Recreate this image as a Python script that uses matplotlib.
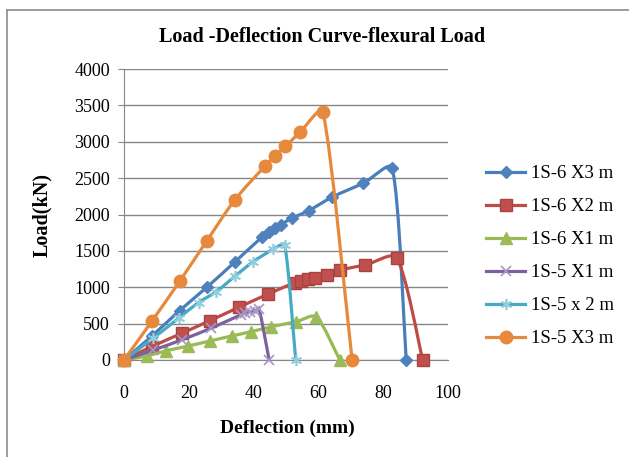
import numpy as np
import matplotlib
matplotlib.use("Agg")
import matplotlib.pyplot as plt
from matplotlib.path import Path
from matplotlib.patches import PathPatch
from matplotlib.lines import Line2D

# deflection (mm) / load (kN)
x_s6x3 = [0, 8.5, 17.2, 25.7, 34.2, 42.6, 44.6, 46.5, 48.4, 51.7, 57.0, 64.3, 73.8, 82.8, 87.1]
y_s6x3 = [0, 325, 680, 1005, 1347, 1690, 1755, 1810, 1860, 1947, 2053, 2240, 2430, 2635, 0]

x_s6x2 = [0, 8.5, 17.8, 26.5, 35.4, 44.5, 52.7, 54.7, 56.8, 59.0, 62.5, 66.8, 74.5, 84.2, 92.2]
y_s6x2 = [0, 183, 367, 540, 724, 907, 1063, 1086, 1109, 1132, 1169, 1238, 1306, 1400, 0]

x_s6x1 = [0, 7.0, 13.1, 19.8, 26.5, 33.2, 39.3, 45.5, 53.2, 59.4, 66.6]
y_s6x1 = [0, 55, 128, 192, 261, 330, 390, 458, 527, 590, 0]

x_s5x1 = [0, 9.0, 18.0, 27.0, 36.0, 37.5, 39.0, 40.5, 41.7, 44.8]
y_s5x1 = [0, 135, 280, 440, 620, 645, 665, 680, 700, 0]

x_s5x2 = [0, 9.0, 17.0, 23.0, 28.5, 34.2, 39.9, 46.0, 49.6, 53.0]
y_s5x2 = [0, 300, 580, 790, 940, 1150, 1352, 1520, 1581, 0]

x_s5x3 = [0, 8.7, 17.3, 25.6, 34.2, 43.4, 46.5, 49.8, 54.3, 61.4, 70.4]
y_s5x3 = [0, 540, 1090, 1640, 2200, 2660, 2800, 2935, 3130, 3410, 0]

labels = ["1S-6 X3 m", "1S-6 X2 m", "1S-6 X1 m", "1S-5 X1 m", "1S-5 x 2 m", "1S-5 X3 m"]

FONT = "Liberation Serif"
plt.rcParams["font.family"] = FONT

W, H = 629, 457
AX_L, AX_R, AX_T, AX_B = 124, 448, 69, 360
XMAX, YMAX = 100, 4000
SX = (AX_R - AX_L) / XMAX
SY = (AX_B - AX_T) / YMAX


def smooth_path(xs, ys):
    # Excel-style smoothed line: bezier through the points, tangents
    # weighted by chord length (worked out in screen space), capped at 1/6
    pts = np.column_stack([np.asarray(xs) * SX, np.asarray(ys) * SY]).astype(float)
    n = len(pts)
    verts = [pts[0]]
    codes = [Path.MOVETO]
    for i in range(n - 1):
        p0 = pts[i - 1] if i > 0 else pts[i]
        p1 = pts[i]
        p2 = pts[i + 1]
        p3 = pts[i + 2] if i + 2 < n else pts[i + 1]
        d01 = np.hypot(*(p1 - p0))
        d12 = np.hypot(*(p2 - p1))
        d23 = np.hypot(*(p3 - p2))
        f1 = min(d12 / (d01 + d12) / 3.0, 1 / 6) if d01 + d12 > 0 else 0
        f2 = min(d12 / (d12 + d23) / 3.0, 1 / 6) if d12 + d23 > 0 else 0
        if i == 0:
            f1 = 1 / 6
        if i + 2 >= n:
            f2 = 1 / 6
        c1 = p1 + (p2 - p0) * f1
        c2 = p2 - (p3 - p1) * f2
        verts += [c1, c2, p2]
        codes += [Path.CURVE4] * 3
    verts = np.array(verts) / [SX, SY]
    return Path(verts, codes)


fig = plt.figure(figsize=(6.29, 4.57), dpi=100)
ax = fig.add_axes([AX_L / W, (H - AX_B) / H, (AX_R - AX_L) / W, (AX_B - AX_T) / H])

series = [
    (x_s6x3, y_s6x3, "#4A7EBB", dict(marker="D", ms=6.5, mfc="#4F81BD", mec="#4F81BD")),
    (x_s6x2, y_s6x2, "#BE4B48", dict(marker="s", ms=8.5, mfc="#C0504D", mec="#A8413F")),
    (x_s6x1, y_s6x1, "#98B954", dict(marker="^", ms=8.5, mfc="#9BBB59", mec="#9BBB59")),
    (x_s5x1, y_s5x1, "#7D60A0", dict(marker="x", ms=7.5, mfc="none", mec="#A796C4", mew=1.2)),
    (x_s5x2, y_s5x2, "#46AAC5", dict(marker=(6, 2, 0), ms=8, mfc="none", mec="#93CDDD", mew=1.2)),
    (x_s5x3, y_s5x3, "#E6893C", dict(marker="o", ms=9, mfc="#E6893C", mec="#E6893C")),
]

handles = []
for k, (xs, ys, col, mk) in enumerate(series):
    z = 3 + k
    ax.add_patch(PathPatch(smooth_path(xs, ys), facecolor="none", edgecolor=col,
                           lw=2.3, zorder=z, capstyle="round", joinstyle="round"))
    ax.plot(xs, ys, linestyle="none", zorder=z + 0.5, clip_on=False, **mk)
    handles.append(Line2D([], [], color=col, lw=2.3, **mk))

ax.set_xlim(0, XMAX)
ax.set_ylim(0, YMAX)
ax.set_xticks(range(0, 101, 20))
ax.set_yticks(range(0, 4001, 500))
ax.grid(axis="y", color="#868686", lw=1)
ax.set_axisbelow(True)
for s in ["top", "right"]:
    ax.spines[s].set_visible(False)
for s in ["left", "bottom"]:
    ax.spines[s].set_color("#868686")
ax.tick_params(axis="y", length=4, color="#868686", labelsize=13, pad=6)
ax.tick_params(axis="x", length=0, labelsize=13, pad=18)

fig.text(322 / W, 1 - 37 / H, "Load -Deflection Curve-flexural Load", ha="center", va="center",
         fontsize=14.5, fontweight="bold")
fig.text(287 / W, 1 - 428 / H, "Deflection (mm)", ha="center", va="center",
         fontsize=14, fontweight="bold")
fig.text(42 / W, 1 - 215 / H, "Load(kN)", ha="center", va="center", rotation=90,
         fontsize=14.5, fontweight="bold")

fig.legend(handles, labels, loc="upper left", bbox_to_anchor=(486 / W, 1 - 165 / H),
           frameon=False, fontsize=13.5, handlelength=2.1, handletextpad=0.3,
           labelspacing=0.85, borderaxespad=0, borderpad=0)

# outer chart border (left and top only visible)
fig.add_artist(Line2D([7 / W, 7 / W], [0, 1 - 10 / H], color="#8C8C8C", lw=1.2,
                      transform=fig.transFigure))
fig.add_artist(Line2D([7 / W, 1], [1 - 10 / H, 1 - 10 / H], color="#8C8C8C", lw=1.2,
                      transform=fig.transFigure))

fig.savefig("out.png", dpi=100)
